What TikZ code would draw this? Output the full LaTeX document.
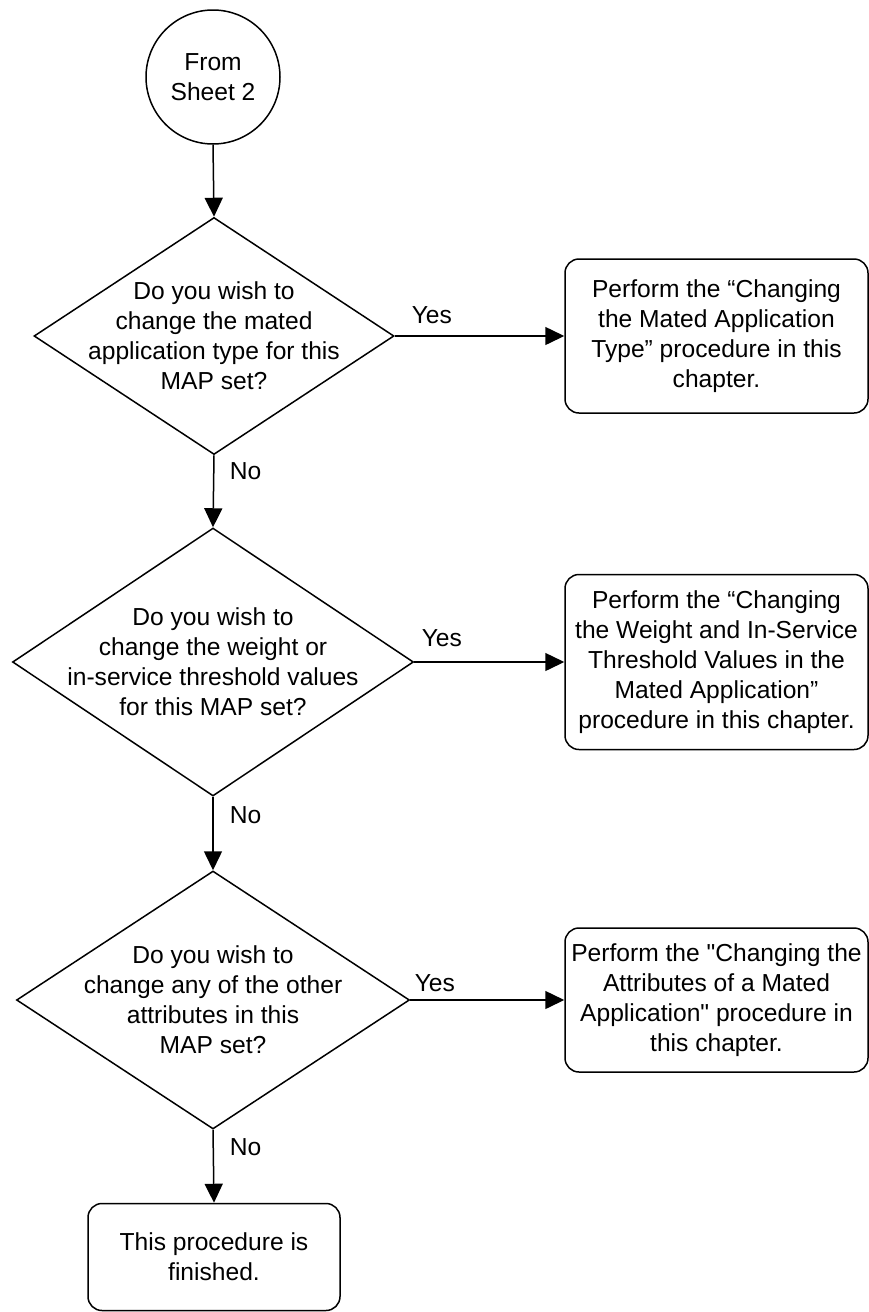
\documentclass[tikz,border=0pt]{standalone}
\usepackage{fontspec}
\setmainfont{Liberation Sans}
\usetikzlibrary{shapes.geometric,arrows.meta}
\begin{document}
\begin{tikzpicture}[x=1pt,y=-1pt,
  every node/.style={font=\fontsize{24.6pt}{30pt}\selectfont},
  line width=1.5pt,
  startcircle/.style={circle,draw,minimum size=134pt,inner sep=0pt,align=center},
  decision/.style={diamond,draw,inner sep=0pt,label={[align=center,inner sep=0pt,font=\fontsize{24.6pt}{30pt}\selectfont]center:#1}},
  procbox/.style={rectangle,draw,rounded corners=14pt,align=center,inner sep=0pt},
  lbl/.style={anchor=west,inner sep=0pt},
  flow/.style={-{Triangle[length=19pt,width=18pt]}}
]
\useasboundingbox (0,0) rectangle (869,1312);
\node[startcircle] (start) at (213,77) {From\\Sheet 2};
\node[decision={Do you wish to\\change the mated\\application type for this\\MAP set?},minimum width=360pt,minimum height=237pt] (d1) at (214,336) {};
\node[decision={Do you wish to\\change the weight or\\in-service threshold values\\for this MAP set?},minimum width=401pt,minimum height=268pt] (d2) at (213,662) {};
\node[decision={Do you wish to\\change any of the other\\attributes in this\\MAP set?},minimum width=393pt,minimum height=258pt] (d3) at (213,1000) {};
\node[procbox,minimum width=303pt,minimum height=154pt] (b1) at (716.5,336) {Perform the “Changing\\the Mated Application\\Type” procedure in this\\chapter.};
\node[procbox,minimum width=303pt,minimum height=175pt] (b2) at (716.5,662) {Perform the “Changing\\the Weight and In-Service\\Threshold Values in the\\Mated Application”\\procedure in this chapter.};
\node[procbox,minimum width=303pt,minimum height=144pt] (b3) at (716.5,1000) {Perform the \textquotedbl Changing the\\Attributes of a Mated\\Application\textquotedbl{} procedure in\\this chapter.};
\node[procbox,minimum width=252pt,minimum height=107pt] (b4) at (214,1257) {This procedure is\\finished.};
\draw[flow] (start.south) -- (d1.north);
\draw[flow] (d1.east) -- (b1.west);
\draw[flow] (d1.south) -- (d2.north);
\draw[flow] (d2.east) -- (b2.west);
\draw[flow] (d2.south) -- (d3.north);
\draw[flow] (d3.east) -- (b3.west);
\draw[flow] (d3.south) -- (b4.north);
\node[lbl] (y1) at (411,315) {Yes};
\node[lbl] (y2) at (421,638) {Yes};
\node[lbl] (y3) at (414,983) {Yes};
\node[lbl] (n1) at (229,471) {No};
\node[lbl] (n2) at (229,815) {No};
\node[lbl] (n3) at (229,1147) {No};
\end{tikzpicture}
\end{document}
